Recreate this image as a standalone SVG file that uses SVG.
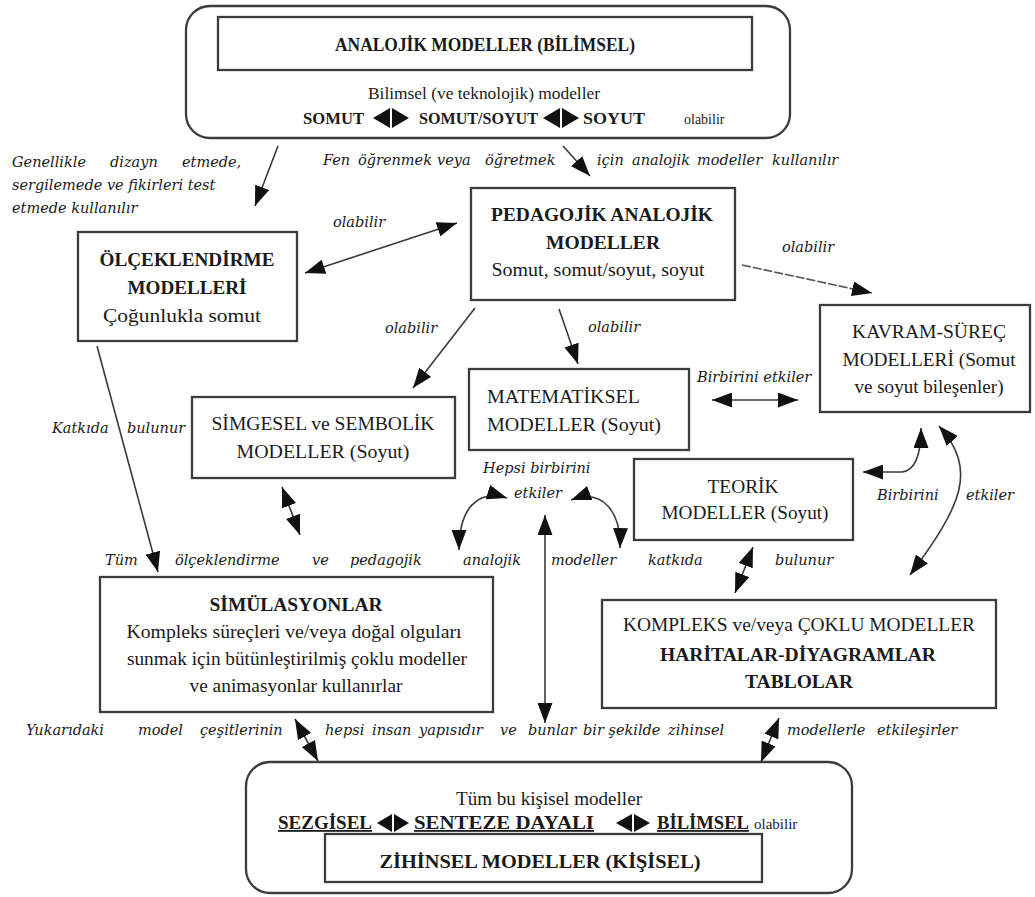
<svg xmlns="http://www.w3.org/2000/svg" width="1035" height="897" viewBox="0 0 1035 897">
<defs>
<style>
.bx{fill:none;stroke:#3c3c3c;stroke-width:2.3}
.t{font-family:"Liberation Serif","Times New Roman",serif;fill:#1a1a1a}
.b{font-weight:bold}
.c{text-anchor:middle}
.i{font-family:"DejaVu Serif",serif;font-style:italic;font-size:14.5px;fill:#1a1a1a}
.ln{stroke:#3a3a3a;stroke-width:1.6;fill:none}
.dl{stroke:#555;stroke-width:1.6;fill:none;stroke-dasharray:9 2}
.tri{fill:#111}
</style>
<marker id="ah" viewBox="0 0 20 15" refX="20" refY="7.5" markerWidth="20" markerHeight="15" markerUnits="userSpaceOnUse" orient="auto-start-reverse"><path d="M0,0 L20,7.5 L0,15 z" fill="#111"/></marker>
</defs>
<rect width="1035" height="897" fill="#fff"/>

<g id="analojik">
<rect class="bx" x="186" y="6" width="604" height="132" rx="24"/>
<rect class="bx" x="218" y="17" width="534" height="53"/>
<text class="t b c" x="485" y="51" style="font-size:19px" textLength="300" lengthAdjust="spacingAndGlyphs">ANALOJİK MODELLER (BİLİMSEL)</text>
<text class="t c" x="484" y="99" style="font-size:17px" textLength="232" lengthAdjust="spacingAndGlyphs">Bilimsel  (ve teknolojik) modeller</text>
<text class="t b" x="303" y="124" style="font-size:16px" textLength="61" lengthAdjust="spacingAndGlyphs">SOMUT</text>
<polygon class="tri" points="373,118 390,108 390,128"/><polygon class="tri" points="409,118 392,108 392,128"/>
<text class="t b" x="419" y="124" style="font-size:16px" textLength="119" lengthAdjust="spacingAndGlyphs">SOMUT/SOYUT</text>
<polygon class="tri" points="543,118 560,108 560,128"/><polygon class="tri" points="579,118 562,108 562,128"/>
<text class="t b" x="583" y="124" style="font-size:16px" textLength="62" lengthAdjust="spacingAndGlyphs">SOYUT</text>
<text class="t" x="684" y="124" style="font-size:14px">olabilir</text>
</g>

<g id="olceklendirme">
<rect class="bx" x="78" y="232" width="219" height="109"/>
<text class="t b c" x="187" y="266" style="font-size:18px" textLength="175" lengthAdjust="spacingAndGlyphs">ÖLÇEKLENDİRME</text>
<text class="t b c" x="187" y="294" style="font-size:18px" textLength="119" lengthAdjust="spacingAndGlyphs">MODELLERİ</text>
<text class="t c" x="182" y="322" style="font-size:18px" textLength="158" lengthAdjust="spacingAndGlyphs">Çoğunlukla somut</text>
</g>

<g id="pedagojik">
<rect class="bx" x="471" y="188" width="264" height="112"/>
<text class="t b c" x="602" y="221" style="font-size:18px" textLength="222" lengthAdjust="spacingAndGlyphs">PEDAGOJİK ANALOJİK</text>
<text class="t b c" x="603" y="249" style="font-size:18px" textLength="114" lengthAdjust="spacingAndGlyphs">MODELLER</text>
<text class="t c" x="598" y="276" style="font-size:18px" textLength="213" lengthAdjust="spacingAndGlyphs">Somut, somut/soyut, soyut</text>
</g>

<g id="kavram">
<rect class="bx" x="820" y="305" width="210" height="107"/>
<text class="t c" x="929" y="338" style="font-size:18px" textLength="154" lengthAdjust="spacingAndGlyphs">KAVRAM-SÜREÇ</text>
<text class="t c" x="929" y="366" style="font-size:18px" textLength="173" lengthAdjust="spacingAndGlyphs">MODELLERİ (Somut</text>
<text class="t c" x="929" y="393" style="font-size:18px" textLength="149" lengthAdjust="spacingAndGlyphs">ve soyut bileşenler)</text>
</g>

<g id="matematiksel">
<rect class="bx" x="469" y="369" width="220" height="81"/>
<text class="t" x="487" y="403" style="font-size:18px" textLength="153" lengthAdjust="spacingAndGlyphs">MATEMATİKSEL</text>
<text class="t" x="487" y="431" style="font-size:18px" textLength="174" lengthAdjust="spacingAndGlyphs">MODELLER  (Soyut)</text>
</g>

<g id="simgesel">
<rect class="bx" x="192" y="397" width="263" height="81"/>
<text class="t c" x="323" y="430" style="font-size:18px" textLength="223" lengthAdjust="spacingAndGlyphs">SİMGESEL ve SEMBOLİK</text>
<text class="t c" x="323" y="458" style="font-size:18px" textLength="173" lengthAdjust="spacingAndGlyphs">MODELLER  (Soyut)</text>
</g>

<g id="teorik">
<rect class="bx" x="634" y="459" width="219" height="81"/>
<text class="t c" x="743" y="493" style="font-size:18px" textLength="71" lengthAdjust="spacingAndGlyphs">TEORİK</text>
<text class="t c" x="745" y="519" style="font-size:18px" textLength="167" lengthAdjust="spacingAndGlyphs">MODELLER (Soyut)</text>
</g>

<g id="simulasyonlar">
<rect class="bx" x="100" y="577" width="393" height="135"/>
<text class="t b c" x="296" y="611" style="font-size:18px" textLength="173" lengthAdjust="spacingAndGlyphs">SİMÜLASYONLAR</text>
<text class="t c" x="294" y="638" style="font-size:18px" textLength="335" lengthAdjust="spacingAndGlyphs">Kompleks süreçleri ve/veya doğal olguları</text>
<text class="t c" x="297" y="665" style="font-size:18px" textLength="340" lengthAdjust="spacingAndGlyphs">sunmak için bütünleştirilmiş çoklu modeller</text>
<text class="t c" x="296" y="692" style="font-size:18px" textLength="213" lengthAdjust="spacingAndGlyphs">ve animasyonlar kullanırlar</text>
</g>

<g id="kompleks">
<rect class="bx" x="602" y="600" width="394" height="108"/>
<text class="t c" x="799" y="631" style="font-size:18px" textLength="352" lengthAdjust="spacingAndGlyphs">KOMPLEKS ve/veya ÇOKLU MODELLER</text>
<text class="t b c" x="798" y="661" style="font-size:18px" textLength="276" lengthAdjust="spacingAndGlyphs">HARİTALAR-DİYAGRAMLAR</text>
<text class="t b c" x="799" y="688" style="font-size:18px" textLength="108" lengthAdjust="spacingAndGlyphs">TABLOLAR</text>
</g>

<g id="zihinsel">
<rect class="bx" x="246" y="762" width="606" height="131" rx="24"/>
<rect class="bx" x="325" y="834" width="437" height="48"/>
<text class="t c" x="549" y="805" style="font-size:18px" textLength="186" lengthAdjust="spacingAndGlyphs">Tüm bu kişisel modeller</text>
<text class="t b" x="278" y="829" style="font-size:18px" text-decoration="underline" textLength="94" lengthAdjust="spacingAndGlyphs">SEZGİSEL</text>
<polygon class="tri" points="377,823 392,814 392,832"/><polygon class="tri" points="409,823 394,814 394,832"/>
<text class="t b" x="414" y="829" style="font-size:18px" text-decoration="underline" textLength="180" lengthAdjust="spacingAndGlyphs">SENTEZE DAYALI</text>
<polygon class="tri" points="616,823 632,814 632,832"/><polygon class="tri" points="650,823 634,814 634,832"/>
<text class="t b" x="657" y="829" style="font-size:18px" text-decoration="underline" textLength="92" lengthAdjust="spacingAndGlyphs">BİLİMSEL</text>
<text class="t" x="754" y="829" style="font-size:15px">olabilir</text>
<text class="t b c" x="540" y="868" style="font-size:19px" textLength="321" lengthAdjust="spacingAndGlyphs">ZİHİNSEL MODELLER (KİŞİSEL)</text>
</g>

<g id="labels">
<text class="i" x="12" y="167">Genellikle</text><text class="i" x="110" y="167">dizayn</text><text class="i" x="182" y="167">etmede,</text>
<text class="i" x="12" y="190">sergilemede ve fikirleri test</text>
<text class="i" x="12" y="213">etmede kullanılır</text>
<text class="i" x="323" y="165">Fen</text><text class="i" x="358" y="165">öğrenmek</text><text class="i" x="437" y="165">veya</text><text class="i" x="485" y="165">öğretmek</text>
<text class="i" x="597" y="165">için</text><text class="i" x="632" y="165">analojik</text><text class="i" x="697" y="165">modeller</text><text class="i" x="772" y="165">kullanılır</text>
<text class="i" x="333" y="227">olabilir</text>
<text class="i" x="782" y="252">olabilir</text>
<text class="i" x="385" y="333">olabilir</text>
<text class="i" x="588" y="332">olabilir</text>
<text class="i" x="697" y="382">Birbirini etkiler</text>
<text class="i" x="52" y="433">Katkıda</text><text class="i" x="127" y="433">bulunur</text>
<text class="i" x="483" y="473">Hepsi birbirini</text>
<text class="i" x="514" y="498">etkiler</text>
<text class="i" x="877" y="500">Birbirini</text><text class="i" x="966" y="500">etkiler</text>
<text class="i" x="105" y="565">Tüm</text><text class="i" x="175" y="565">ölçeklendirme</text><text class="i" x="312" y="565">ve</text><text class="i" x="350" y="565">pedagojik</text><text class="i" x="463" y="565">analojik</text><text class="i" x="551" y="565">modeller</text><text class="i" x="648" y="565">katkıda</text><text class="i" x="775" y="565">bulunur</text>
<text class="i" x="26" y="735">Yukarıdaki</text><text class="i" x="138" y="735">model</text><text class="i" x="200" y="735">çeşitlerinin</text><text class="i" x="325" y="735">hepsi</text><text class="i" x="372" y="735">insan</text><text class="i" x="419" y="735">yapısıdır</text><text class="i" x="500" y="735">ve</text><text class="i" x="528" y="735">bunlar</text><text class="i" x="583" y="735">bir şekilde</text><text class="i" x="668" y="735">zihinsel</text><text class="i" x="787" y="735">modellerle</text><text class="i" x="877" y="735">etkileşirler</text>
</g>

<g id="connectors">
<line class="ln" x1="278" y1="146" x2="255" y2="206" marker-end="url(#ah)"/>
<line class="ln" x1="563" y1="146" x2="590" y2="176" marker-end="url(#ah)"/>
<line class="ln" x1="305" y1="273" x2="457" y2="223" marker-start="url(#ah)" marker-end="url(#ah)"/>
<line class="dl" x1="742" y1="265" x2="872" y2="293" marker-end="url(#ah)"/>
<line class="ln" x1="475" y1="308" x2="413" y2="388" marker-end="url(#ah)"/>
<line class="ln" x1="559" y1="309" x2="578" y2="364" marker-end="url(#ah)"/>
<line class="ln" x1="712" y1="400" x2="798" y2="400" marker-start="url(#ah)" marker-end="url(#ah)"/>
<line class="ln" x1="97" y1="346" x2="158" y2="572" marker-end="url(#ah)"/>
<line class="ln" x1="282" y1="487" x2="300" y2="535" marker-start="url(#ah)" marker-end="url(#ah)"/>
<path class="ln" d="M507,498 C478,489 459,508 459,550" marker-start="url(#ah)" marker-end="url(#ah)"/>
<path class="ln" d="M571,500 C603,488 621,512 620,548" marker-start="url(#ah)" marker-end="url(#ah)"/>
<line class="ln" x1="545" y1="515" x2="545" y2="723" marker-start="url(#ah)" marker-end="url(#ah)"/>
<path class="ln" d="M863,472 L902,472 Q921,470 921,428" marker-start="url(#ah)" marker-end="url(#ah)"/>
<path class="ln" d="M939,426 C978,470 962,505 910,575" marker-start="url(#ah)" marker-end="url(#ah)"/>
<line class="ln" x1="753" y1="547" x2="735" y2="593" marker-start="url(#ah)" marker-end="url(#ah)"/>
<line class="ln" x1="295" y1="719" x2="318" y2="761" marker-start="url(#ah)" marker-end="url(#ah)"/>
<line class="ln" x1="779" y1="718" x2="761" y2="762" marker-start="url(#ah)" marker-end="url(#ah)"/>
</g>
</svg>
